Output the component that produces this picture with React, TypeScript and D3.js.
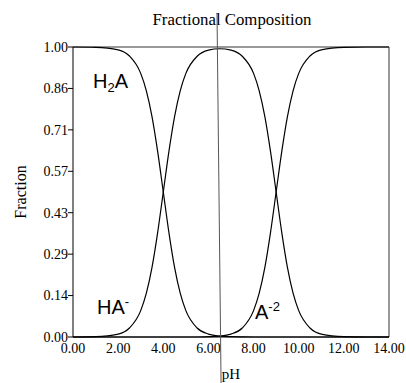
import React from "react";
import * as d3 from "d3";

const pH = [0, 1, 2, 2.5, 3, 3.25, 3.5, 3.75, 4, 4.25, 4.5, 4.75, 5, 5.5, 6, 6.5, 7, 7.5, 8, 8.25, 8.5, 8.75, 9, 9.25, 9.5, 9.75, 10, 10.5, 11, 12, 13, 14];
const fracH2A = [1, 0.999, 0.99, 0.969, 0.909, 0.849, 0.76, 0.64, 0.5, 0.36, 0.24, 0.151, 0.091, 0.031, 0.01, 0.003, 0.001, 0.0003, 0, 0, 0, 0, 0, 0, 0, 0, 0, 0, 0, 0, 0, 0];
const fracHA = [0, 0.001, 0.01, 0.031, 0.091, 0.151, 0.24, 0.36, 0.5, 0.64, 0.76, 0.849, 0.909, 0.968, 0.989, 0.994, 0.989, 0.968, 0.909, 0.849, 0.76, 0.64, 0.5, 0.36, 0.24, 0.151, 0.091, 0.031, 0.01, 0.001, 0, 0];
const fracA = [0, 0, 0, 0, 0, 0, 0, 0, 0, 0, 0, 0, 0, 0, 0.001, 0.003, 0.01, 0.031, 0.091, 0.151, 0.24, 0.36, 0.5, 0.64, 0.76, 0.849, 0.909, 0.969, 0.99, 0.999, 1, 1];
const xTicks = [0, 2, 4, 6, 8, 10, 12, 14];
const yTicks = [0, 1 / 7, 2 / 7, 3 / 7, 4 / 7, 5 / 7, 6 / 7, 1];
const cursorPH = [6.38, 6.56];
const cursorFrac = [1.117, -0.159];

export default function App() {
  const W = 406, H = 383;
  const left = 73, right = 389, top = 47, bottom = 337;
  const x = d3.scaleLinear().domain([0, 14]).range([left, right]);
  const y = d3.scaleLinear().domain([0, 1]).range([bottom, top]);
  const line = d3
    .line<number>()
    .x((_, i) => x(pH[i]))
    .y((d) => y(d))
    .curve(d3.curveMonotoneX);
  const serif = "'Liberation Serif', 'Times New Roman', serif";
  const sans = "'Liberation Sans', Arial, sans-serif";
  return (
    <svg width={W} height={H} style={{ position: "absolute", left: 0, top: 0, background: "#fff" }}>
      <text x={232} y={25} textAnchor="middle" fontFamily={serif} fontSize={16.8}>Fractional Composition</text>
      <line x1={left} x2={right} y1={top} y2={top} stroke="#777" strokeWidth={1.5} />
      <line x1={right} x2={right} y1={top} y2={bottom} stroke="#777" strokeWidth={1.5} />
      <line x1={left} x2={left} y1={top} y2={bottom} stroke="#000" strokeWidth={1} />
      <line x1={left} x2={right} y1={bottom} y2={bottom} stroke="#000" strokeWidth={1} />
      {yTicks.map((t, i) => (
        <g key={"y" + i}>
          <line x1={left - 5} x2={left} y1={y(t)} y2={y(t)} stroke="#000" />
          <text x={left - 5} y={y(t)} dy="0.35em" textAnchor="end" fontFamily={serif} fontSize={14}>
            {t.toFixed(2)}
          </text>
        </g>
      ))}
      {xTicks.map((t, i) => (
        <text key={"x" + i} x={x(t)} y={bottom + 16} textAnchor="middle" fontFamily={serif} fontSize={14}>
          {t.toFixed(2)}
        </text>
      ))}
      <text transform={`translate(26,${(top + bottom) / 2}) rotate(-90)`} textAnchor="middle" fontFamily={serif} fontSize={16}>Fraction</text>
      <text x={231} y={379} textAnchor="middle" fontFamily={serif} fontSize={15}>pH</text>
      {[fracH2A, fracHA, fracA].map((s, i) => (
        <path key={"s" + i} d={line(s) || ""} fill="none" stroke="#000" strokeWidth={1.2} />
      ))}
      <line x1={x(cursorPH[0])} x2={x(cursorPH[1])} y1={y(cursorFrac[0])} y2={y(cursorFrac[1])} stroke="#555" strokeWidth={1} />
      <text x={93} y={88} fontFamily={sans} fontSize={20}>
        H<tspan fontSize={13} dy={4}>2</tspan><tspan dy={-4}>A</tspan>
      </text>
      <text x={97} y={314} fontFamily={sans} fontSize={20}>
        HA<tspan fontSize={13} dy={-8}>-</tspan>
      </text>
      <text x={255} y={319} fontFamily={sans} fontSize={20}>
        A<tspan fontSize={13} dy={-8}>-2</tspan>
      </text>
    </svg>
  );
}
